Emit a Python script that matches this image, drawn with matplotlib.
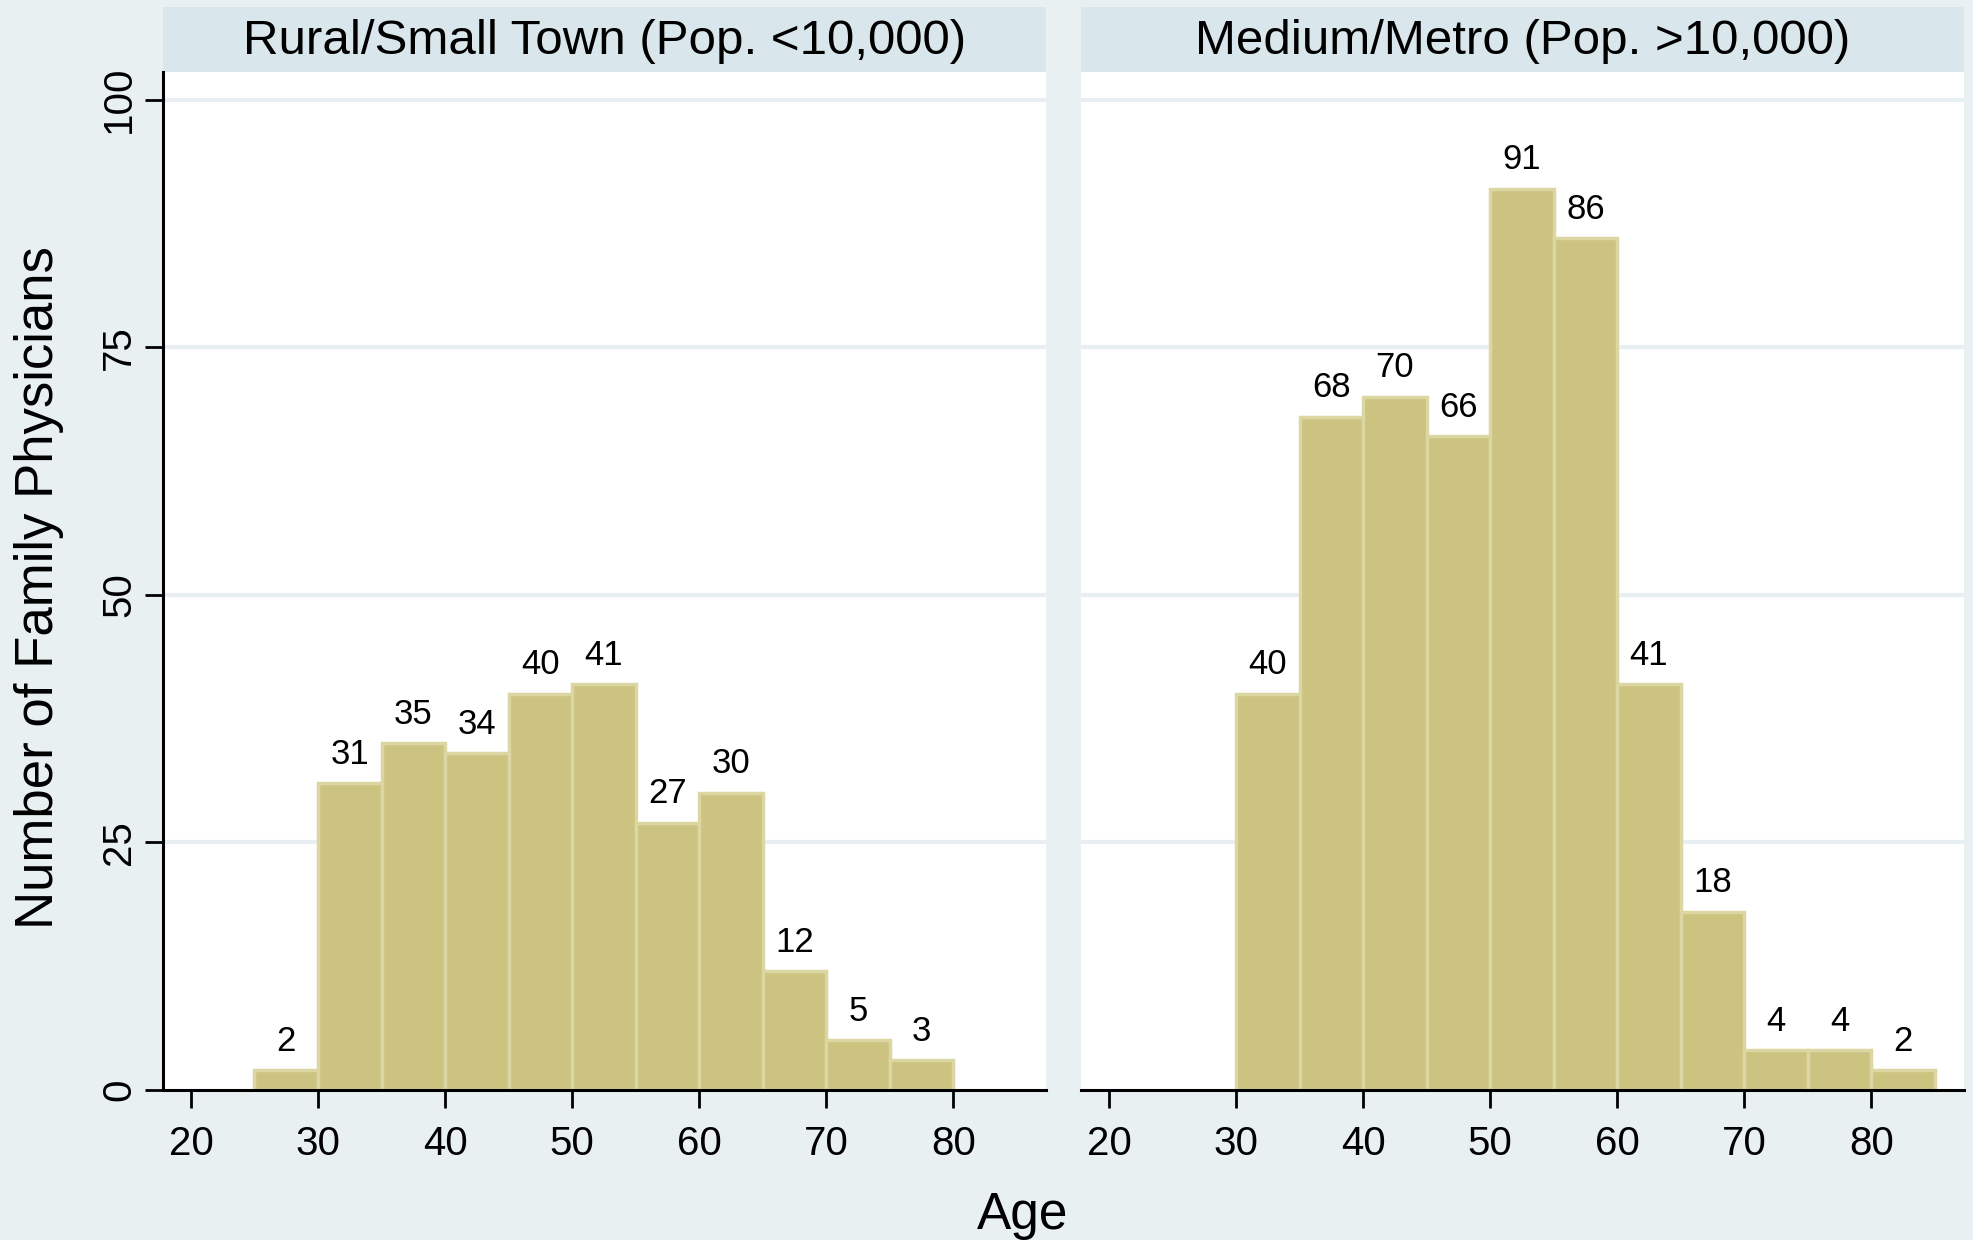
import matplotlib
matplotlib.use("Agg")
import matplotlib.pyplot as plt
from matplotlib.patches import Rectangle

# ---- data ----
panel_titles = ["Rural/Small Town (Pop. <10,000)", "Medium/Metro (Pop. >10,000)"]
rural_bins = [25, 30, 35, 40, 45, 50, 55, 60, 65, 70, 75]
rural_counts = [2, 31, 35, 34, 40, 41, 27, 30, 12, 5, 3]
metro_bins = [30, 35, 40, 45, 50, 55, 60, 65, 70, 75, 80]
metro_counts = [40, 68, 70, 66, 91, 86, 41, 18, 4, 4, 2]
bin_width = 5
x_ticks = [20, 30, 40, 50, 60, 70, 80]
y_ticks = [0, 25, 50, 75, 100]

BG = "#e8f0f2"
HEADER = "#d9e6eb"
BAR = "#cbc37f"
EDGE = "#dcd7a2"
GRID = "#e8eff2"

plt.rcParams["font.family"] = ["Liberation Sans", "DejaVu Sans"]

W, H = 1974, 1240
fig = plt.figure(figsize=(W / 100, H / 100), dpi=100, facecolor=BG)

ax_top, ax_bot = 72, 1090
panel_w = 883
lefts = [163, 1081]
header_h = 65

data = [(rural_bins, rural_counts), (metro_bins, metro_counts)]

for i, (left, (bins, counts)) in enumerate(zip(lefts, data)):
    ax = fig.add_axes([left / W, (H - ax_bot) / H, panel_w / W, (ax_bot - ax_top) / H])
    ax.set_facecolor("white")
    ax.set_xlim(17.8, 87.3)
    ax.set_ylim(0, 102.8)

    for yv in y_ticks[1:]:
        ax.axhline(yv, color=GRID, lw=3, zorder=1)

    ax.bar(bins, counts, width=bin_width, align="edge", color=BAR,
           edgecolor=EDGE, linewidth=2.5, zorder=2)
    for b, c in zip(bins, counts):
        ax.annotate(str(c), (b + bin_width / 2, c), xytext=(0, 14),
                    textcoords="offset points", ha="center", va="baseline",
                    fontsize=25, zorder=3)

    for s in ["top", "right"]:
        ax.spines[s].set_visible(False)
    ax.spines["bottom"].set_linewidth(2.2)
    ax.spines["left"].set_linewidth(2.2)

    ax.set_xticks(x_ticks)
    ax.tick_params(axis="x", length=13, width=2, labelsize=29, pad=12)
    if i == 0:
        ax.set_yticks(y_ticks)
        ax.set_yticklabels([str(v) for v in y_ticks], rotation=90, va="center")
        ax.tick_params(axis="y", length=13, width=2, labelsize=29, pad=5)
    else:
        ax.spines["left"].set_visible(False)
        ax.set_yticks([])

    # panel header strip
    hh = header_h / (ax_bot - ax_top)
    ax.add_patch(Rectangle((0, 1), 1, hh, transform=ax.transAxes,
                           facecolor=HEADER, edgecolor="none", clip_on=False))
    ax.text(0.5, 1 + hh / 2 - 0.002, panel_titles[i], transform=ax.transAxes,
            ha="center", va="center", fontsize=35.5)

fig.text(39 / W, 1 - 588 / H, "Number of Family Physicians", rotation=90,
         ha="center", va="center", fontsize=38)
fig.text(1023 / W, 1 - 1216 / H, "Age", ha="center", va="center", fontsize=37)

fig.savefig("out.png", dpi=100, facecolor=BG)
